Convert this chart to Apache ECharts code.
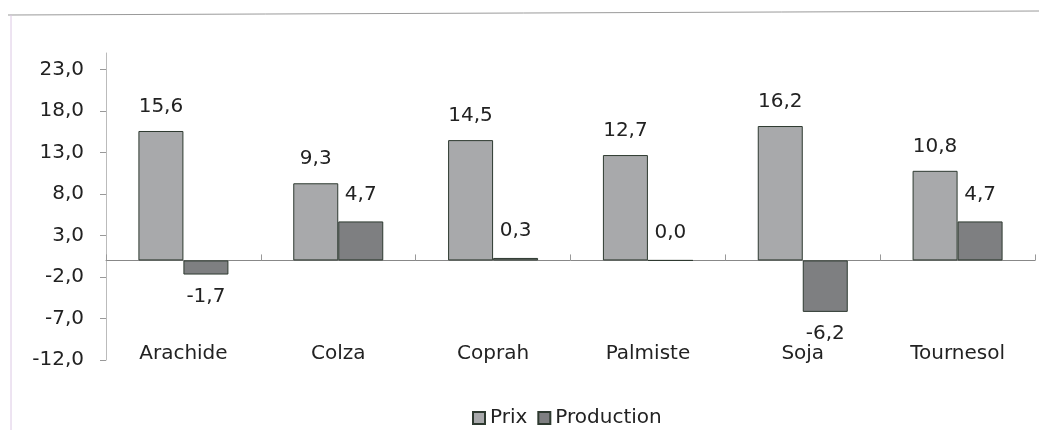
<!DOCTYPE html>
<html>
<head>
<meta charset="utf-8">
<script src="https://cdn.jsdelivr.net/npm/echarts@6/dist/echarts.min.js"></script>
<style>
  html, body { margin: 0; padding: 0; background: #fff; }
  #chart { width: 1039px; height: 430px; }
</style>
</head>
<body>
<div id="chart"></div>
<script>
var categories = ["Arachide", "Colza", "Coprah", "Palmiste", "Soja", "Tournesol"];
var prix = [15.6, 9.3, 14.5, 12.7, 16.2, 10.8];
var production = [-1.7, 4.7, 0.3, 0.0, -6.2, 4.7];

// format à la française : virgule décimale
function fr(v) {
  return Number(v).toFixed(1).replace(".", ",");
}

function withLabels(values, upDist, downDist) {
  return values.map(function (v) {
    return {
      value: v,
      label: {
        position: v < 0 ? "bottom" : "top",
        distance: v < 0 ? downDist : upDist
      }
    };
  });
}

var font = "DejaVu Sans";
var txt = "#222";

var option = {
  animation: false,
  textStyle: { fontFamily: font },
  graphic: [
    { type: "line", shape: { x1: 8, y1: 15, x2: 1039, y2: 11 }, style: { stroke: "#9a9a9a", lineWidth: 1 } },
    { type: "line", shape: { x1: 11, y1: 15, x2: 11, y2: 430 }, style: { stroke: "#dcc8e4", lineWidth: 1 } }
  ],
  grid: { left: 106, right: 4, top: 53, bottom: 70, containLabel: false, outerBoundsMode: "none" },
  legend: {
    left: 467,
    top: 403,
    icon: "rect",
    itemWidth: 12,
    itemHeight: 12,
    itemGap: 10,
    textStyle: { fontFamily: font, fontSize: 20, color: txt },
    data: ["Prix", "Production"]
  },
  xAxis: [
    {
      // axe au niveau du zéro, sans étiquettes
      type: "category",
      data: categories,
      axisLine: { onZero: true, lineStyle: { color: "#888" } },
      axisTick: { show: true, inside: true, length: 6, lineStyle: { color: "#999" } },
      axisLabel: { show: false }
    },
    {
      // étiquettes des catégories en bas
      type: "category",
      data: categories,
      position: "bottom",
      axisLine: { show: false, onZero: false },
      axisTick: { show: false },
      axisLabel: { margin: -16, fontFamily: font, fontSize: 20, color: txt }
    }
  ],
  yAxis: {
    type: "value",
    min: -12,
    max: 25,
    interval: 5,
    splitLine: { show: false },
    axisLine: { show: true, lineStyle: { color: "#bbb" } },
    axisTick: { show: true, length: 6, lineStyle: { color: "#999" } },
    axisLabel: {
      showMaxLabel: false,
      margin: 22,
      fontFamily: font,
      fontSize: 20,
      color: txt,
      formatter: function (v) { return v === 25 ? "" : fr(v); }
    }
  },
  series: [
    {
      name: "Prix",
      type: "bar",
      xAxisIndex: 0,
      barWidth: 45,
      barGap: "0%",
      data: withLabels(prix, 14, 12),
      itemStyle: { color: "#a8a9ab", borderColor: "#2e3a30", borderWidth: 1 },
      label: { show: true, fontFamily: font, fontSize: 20, color: txt, formatter: function (p) { return fr(p.value); } }
    },
    {
      name: "Production",
      type: "bar",
      xAxisIndex: 0,
      barWidth: 45,
      barGap: "0%",
      data: withLabels(production, 17, 12),
      itemStyle: { color: "#7e7f81", borderColor: "#2e3a30", borderWidth: 1 },
      label: { show: true, fontFamily: font, fontSize: 20, color: txt, formatter: function (p) { return fr(p.value); } }
    }
  ]
};

var myChart = echarts.init(document.getElementById("chart"));
myChart.setOption(option);
</script>
</body>
</html>
